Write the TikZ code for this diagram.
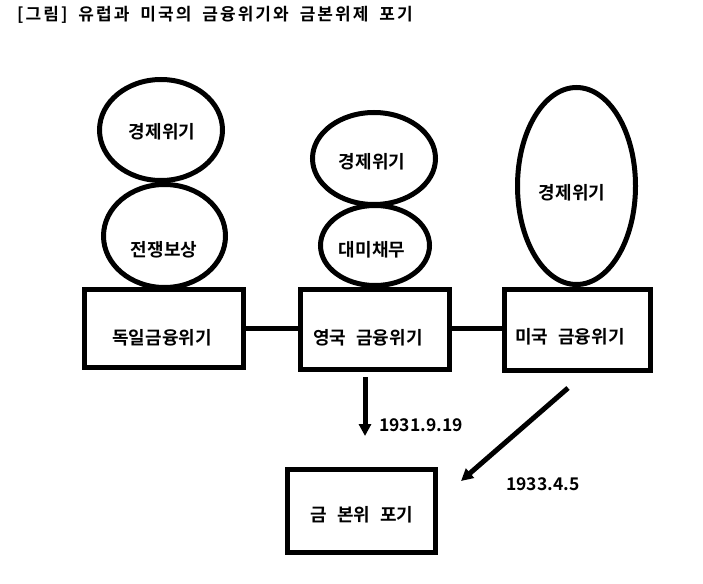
\documentclass[tikz,border=0pt]{standalone}
\usepackage{fontspec}
\setmainfont{Noto Sans CJK KR}[BoldFont={Noto Sans CJK KR Bold}]
\usetikzlibrary{shapes.geometric,arrows.meta}
\newcommand{\tsp}{\hspace{11pt}}
\newcommand{\lsp}{\hspace{10pt}}
\begin{document}
\begin{tikzpicture}[x=1pt,y=-1pt,
  oval/.style={draw,ellipse,line width=5pt,inner sep=0pt},
  boxnode/.style={draw,rectangle,line width=5pt,inner sep=0pt},
  lbl/.style={inner sep=0pt,font=\bfseries\fontsize{18pt}{21pt}\selectfont},
  datelbl/.style={inner sep=0pt,font=\bfseries\fontsize{17.5pt}{20pt}\selectfont},
  link/.style={line width=5pt},
  arr/.style={line width=5pt,-{Triangle[length=12pt,width=12pt]}}]
\useasboundingbox (0,0) rectangle (703,583);
% title
\node[inner sep=0pt,anchor=west,font=\bfseries\fontsize{17pt}{20pt}\selectfont\addfontfeature{LetterSpace=12}] (title) at (17,15) {[그림]\tsp 유럽과\tsp 미국의\tsp 금융위기와\tsp 금본위제\tsp 포기};
% ellipses
\node[oval,minimum width=123pt,minimum height=101pt] (e1) at (161,130) {};
\node[oval,minimum width=122pt,minimum height=103pt] (e2) at (164.5,236) {};
\node[oval,minimum width=123pt,minimum height=92pt] (e3) at (374,158.5) {};
\node[oval,minimum width=109pt,minimum height=80pt] (e4) at (375,245.5) {};
\node[oval,minimum width=118pt,minimum height=197pt] (e5) at (576.5,186) {};
% boxes
\node[boxnode,minimum width=159pt,minimum height=78pt] (b1) at (164,328.5) {};
\node[boxnode,minimum width=149pt,minimum height=80pt] (b2) at (375,329.5) {};
\node[boxnode,minimum width=146pt,minimum height=81pt] (b3) at (577.5,330) {};
\node[boxnode,minimum width=148pt,minimum height=83pt] (b4) at (361.5,511) {};
% labels
\node[lbl] (t1) at (162,132) {경제위기};
\node[lbl] (t2) at (164,250) {전쟁보상};
\node[lbl] (t3) at (372,162) {경제위기};
\node[lbl] (t4) at (372,250) {대미채무};
\node[lbl] (t5) at (572,193) {경제위기};
\node[lbl] (t6) at (162,338) {독일금융위기};
\node[lbl] (t7) at (368,338) {영국\lsp 금융위기};
\node[lbl] (t8) at (570,337) {미국\lsp 금융위기};
\node[lbl] (t9) at (362,515) {금\lsp 본위\lsp 포기};
\node[datelbl] (d1) at (421,425) {1931.9.19};
\node[datelbl] (d2) at (543,484) {1933.4.5};
% connectors
\draw[link] (b1.east |- 0,328) -- (b2.west |- 0,328);
\draw[link] (b2.east |- 0,328) -- (b3.west |- 0,328);
\coordinate (a1s) at (365,377);
\coordinate (a1e) at (365,436);
\coordinate (a2s) at (568,388);
\coordinate (a2e) at (461,481);
\draw[arr] (a1s) -- (a1e);
\draw[arr] (a2s) -- (a2e);
\end{tikzpicture}
\end{document}
